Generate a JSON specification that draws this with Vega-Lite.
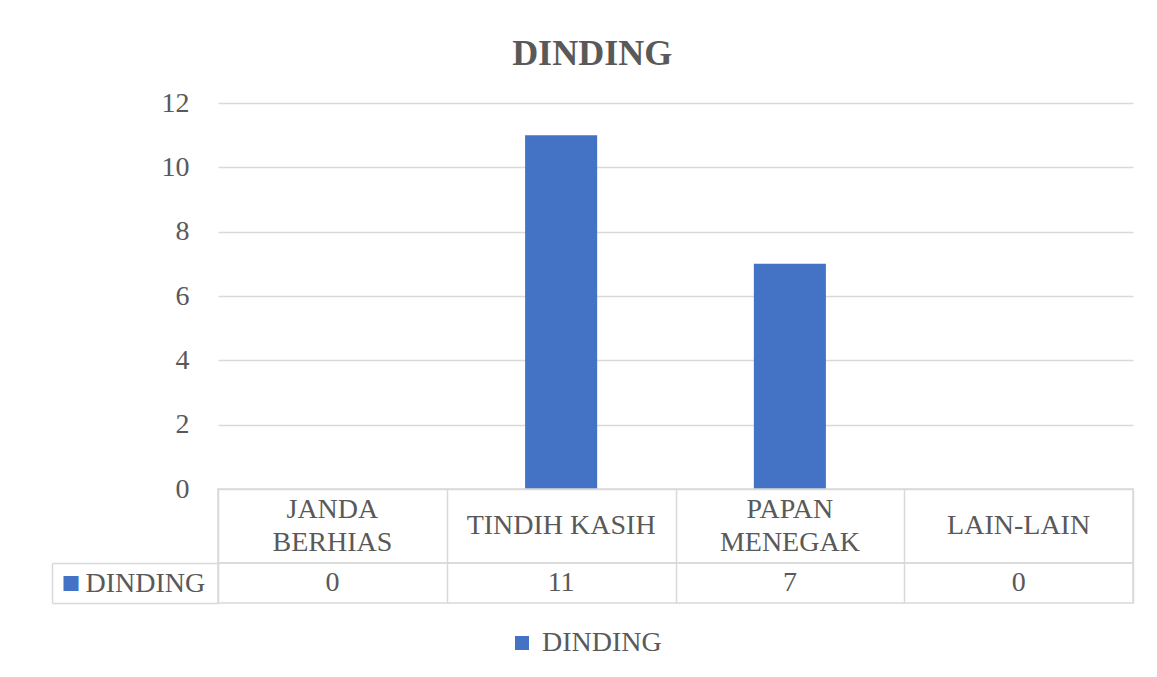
{
  "$schema": "https://vega.github.io/schema/vega-lite/v6.json",
  "background": "white",
  "padding": {"left": 50, "top": 36, "right": 25, "bottom": 10},
  "bounds": "flush",
  "config": {
    "font": "Liberation Serif",
    "view": {"stroke": null},
    "axis": {"labelFont": "Liberation Serif", "titleFont": "Liberation Serif"},
    "legend": {"labelFont": "Liberation Serif"}
  },
  "title": {
    "text": "DINDING",
    "fontSize": 36,
    "fontWeight": "bold",
    "color": "#595959",
    "anchor": "middle",
    "frame": "bounds",
    "offset": 16
  },
  "datasets": {
    "d": [
      {"kategori": "JANDA\nBERHIAS", "nilai": 0, "siri": "DINDING"},
      {"kategori": "TINDIH KASIH", "nilai": 11, "siri": "DINDING"},
      {"kategori": "PAPAN\nMENEGAK", "nilai": 7, "siri": "DINDING"},
      {"kategori": "LAIN-LAIN", "nilai": 0, "siri": "DINDING"}
    ]
  },
  "spacing": 0,
  "vconcat": [
    {
      "width": 915,
      "height": 386,
      "data": {"name": "d"},
      "mark": {"type": "bar", "width": {"band": 0.315}},
      "encoding": {
        "x": {"field": "kategori", "type": "nominal", "sort": null, "scale": {"paddingInner": 0, "paddingOuter": 0}, "axis": null},
        "y": {
          "field": "nilai", "type": "quantitative",
          "scale": {"domain": [0, 12], "nice": false},
          "axis": {"values": [0, 2, 4, 6, 8, 10, 12], "title": null, "domain": false, "ticks": false, "labelPadding": 29, "labelFontSize": 28, "labelColor": "#595959", "gridColor": "#d9d9d9", "gridWidth": 1.5}
        },
        "color": {
          "field": "siri", "type": "nominal",
          "scale": {"range": ["#4472C4"]},
          "legend": {"orient": "none", "legendX": 290, "legendY": 526, "title": null, "symbolType": "square", "symbolSize": 196, "symbolStrokeWidth": 0, "labelFontSize": 28, "labelColor": "#595959", "labelOffset": 6}
        }
      }
    },
    {
      "width": 915,
      "height": 74,
      "view": {"stroke": "#d9d9d9", "strokeWidth": 1.5},
      "data": {"name": "d"},
      "encoding": {
        "x": {"field": "kategori", "type": "nominal",
          "sort": ["JANDA\nBERHIAS", "TINDIH KASIH", "PAPAN\nMENEGAK", "LAIN-LAIN"],
          "scale": {"paddingInner": 0, "paddingOuter": 0},
          "axis": {"grid": true, "tickBand": "extent", "domain": false, "ticks": false, "labels": false, "title": null, "gridColor": "#d9d9d9", "gridWidth": 1.5}},
        "text": {"field": "kategori", "type": "nominal"}
      },
      "layer": [
        {
          "transform": [{"filter": "indexof(datum.kategori, '\\n') < 0"}],
          "mark": {"type": "text", "lineBreak": "\n", "fontSize": 28, "color": "#595959", "lineHeight": 33}
        },
        {
          "transform": [{"filter": "indexof(datum.kategori, '\\n') >= 0"}],
          "mark": {"type": "text", "lineBreak": "\n", "fontSize": 28, "color": "#595959", "lineHeight": 33, "dy": -16}
        }
      ]
    },
    {
      "width": 915,
      "height": 40,
      "view": {"stroke": "#d9d9d9", "strokeWidth": 1.5},
      "data": {"name": "d"},
      "mark": {"type": "text", "fontSize": 28, "color": "#595959"},
      "encoding": {
        "x": {"field": "kategori", "type": "nominal", "sort": null, "scale": {"paddingInner": 0, "paddingOuter": 0},
          "axis": {"grid": true, "tickBand": "extent", "domain": false, "ticks": false, "labels": false, "title": null, "gridColor": "#d9d9d9", "gridWidth": 1.5}},
        "y": {
          "datum": 0.5, "type": "quantitative",
          "scale": {"domain": [0, 1], "nice": false},
          "axis": {
            "values": [0, 0.5, 1], "offset": 166, "tickSize": -166, "tickWidth": 1.5,
            "tickColor": {"condition": {"test": "datum.value == 0.5", "value": "transparent"}, "value": "#d9d9d9"},
            "domainColor": "#d9d9d9", "domainWidth": 1.5, "grid": false,
            "labelExpr": "datum.value == 0.5 ? 'DINDING' : ''", "labelAlign": "left", "labelPadding": 133,
            "labelFontSize": 28, "labelColor": "#595959", "labelOverlap": false, "labelFlush": false,
            "title": "■", "titleColor": "#4472C4", "titleAngle": 0, "titleAlign": "left", "titleBaseline": "middle",
            "titleX": 9, "titleY": 20, "titleFontSize": 31, "titleFontWeight": "normal"
          }
        },
        "text": {"field": "nilai", "type": "quantitative"}
      }
    }
  ]
}
